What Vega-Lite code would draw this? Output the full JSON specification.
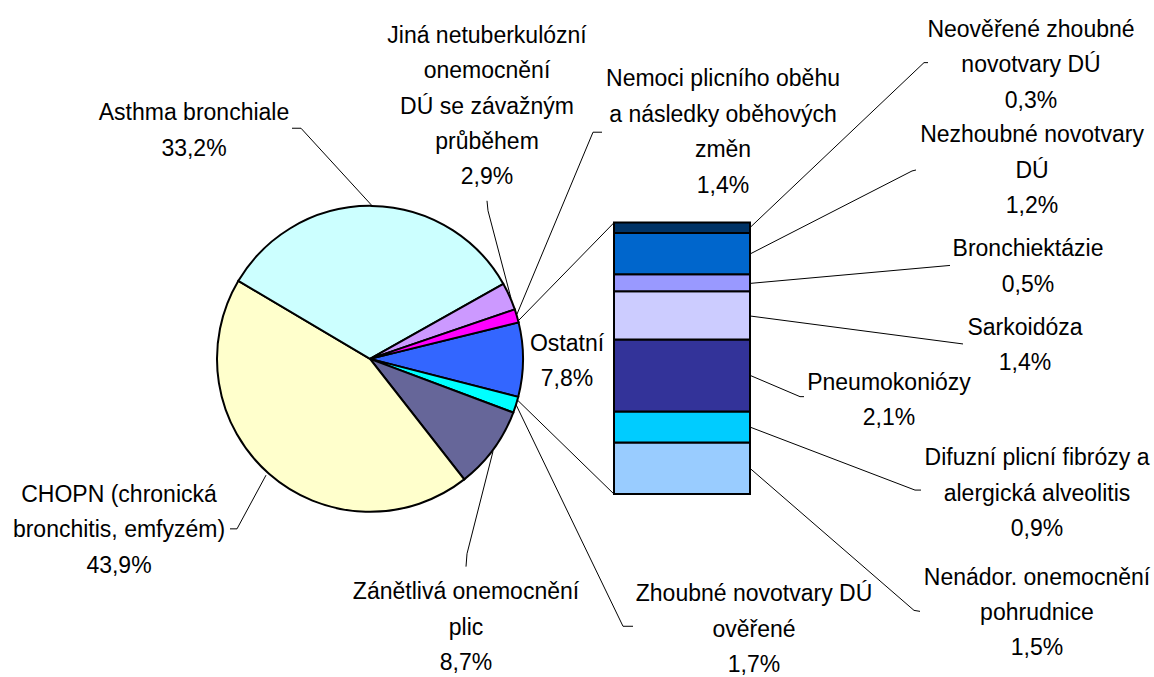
{
  "$schema": "https://vega.github.io/schema/vega-lite/v6.json",
  "width": 1154,
  "height": 677,
  "autosize": {"type": "fit", "contains": "padding"},
  "padding": 0,
  "background": "white",
  "config": {"view": {"stroke": null}},
  "datasets": {
    "pie": [
      {"name": "Ostatní", "value": 7.8, "ord": 1},
      {"name": "Zhoubné novotvary DÚ ověřené", "value": 1.7, "ord": 2},
      {"name": "Zánětlivá onemocnění plic", "value": 8.7, "ord": 3},
      {"name": "CHOPN (chronická bronchitis, emfyzém)", "value": 43.9, "ord": 4},
      {"name": "Asthma bronchiale", "value": 33.2, "ord": 5},
      {"name": "Jiná netuberkulózní onemocnění DÚ se závažným průběhem", "value": 2.9, "ord": 6},
      {"name": "Nemoci plicního oběhu a následky oběhových změn", "value": 1.4, "ord": 7}
    ],
    "bar": [
      {"name": "Nenádor. onemocnění pohrudnice", "value": 1.5, "ord": 1},
      {"name": "Difuzní plicní fibrózy a alergická alveolitis", "value": 0.9, "ord": 2},
      {"name": "Pneumokoniózy", "value": 2.1, "ord": 3},
      {"name": "Sarkoidóza", "value": 1.4, "ord": 4},
      {"name": "Bronchiektázie", "value": 0.5, "ord": 5},
      {"name": "Nezhoubné novotvary DÚ", "value": 1.2, "ord": 6},
      {"name": "Neověřené zhoubné novotvary DÚ", "value": 0.3, "ord": 7}
    ],
    "labels": [
      {"label": "Asthma bronchiale\n33,2%", "x": 194, "y": 121},
      {"label": "Jiná netuberkulózní\nonemocnění\nDÚ se závažným\nprůběhem\n2,9%", "x": 487, "y": 43},
      {"label": "Nemoci plicního oběhu\na následky oběhových\nzměn\n1,4%", "x": 723, "y": 87},
      {"label": "Ostatní\n7,8%", "x": 567, "y": 353},
      {"label": "Neověřené zhoubné\nnovotvary DÚ\n0,3%", "x": 1031, "y": 37},
      {"label": "Nezhoubné novotvary\nDÚ\n1,2%", "x": 1032, "y": 143},
      {"label": "Bronchiektázie\n0,5%", "x": 1028, "y": 258},
      {"label": "Sarkoidóza\n1,4%", "x": 1025, "y": 337},
      {"label": "Pneumokoniózy\n2,1%", "x": 889, "y": 392},
      {"label": "Difuzní plicní fibrózy a\nalergická alveolitis\n0,9%", "x": 1037, "y": 468},
      {"label": "Nenádor. onemocnění\npohrudnice\n1,5%", "x": 1037, "y": 588},
      {"label": "Zhoubné novotvary DÚ\nověřené\n1,7%", "x": 754, "y": 605},
      {"label": "Zánětlivá onemocnění\nplic\n8,7%", "x": 466, "y": 603},
      {"label": "CHOPN (chronická\nbronchitis, emfyzém)\n43,9%", "x": 119, "y": 505}
    ],
    "leaders": [
      {"id": "A", "ord": 1, "x": 292, "y": 129}, {"id": "A", "ord": 2, "x": 301, "y": 129}, {"id": "A", "ord": 3, "x": 373, "y": 208},
      {"id": "J", "ord": 1, "x": 487, "y": 202}, {"id": "J", "ord": 2, "x": 488, "y": 212}, {"id": "J", "ord": 3, "x": 511, "y": 300},
      {"id": "N", "ord": 1, "x": 602, "y": 133}, {"id": "N", "ord": 2, "x": 593, "y": 133}, {"id": "N", "ord": 3, "x": 517, "y": 316},
      {"id": "C1", "ord": 1, "x": 614, "y": 224}, {"id": "C1", "ord": 2, "x": 517, "y": 324},
      {"id": "C2", "ord": 1, "x": 614, "y": 497}, {"id": "C2", "ord": 2, "x": 518, "y": 403},
      {"id": "NEO", "ord": 1, "x": 928, "y": 63}, {"id": "NEO", "ord": 2, "x": 924, "y": 63}, {"id": "NEO", "ord": 3, "x": 751, "y": 228},
      {"id": "NEZ", "ord": 1, "x": 916, "y": 171}, {"id": "NEZ", "ord": 2, "x": 912, "y": 172}, {"id": "NEZ", "ord": 3, "x": 751, "y": 255},
      {"id": "BR", "ord": 1, "x": 950, "y": 267}, {"id": "BR", "ord": 2, "x": 751, "y": 285},
      {"id": "SA", "ord": 1, "x": 963, "y": 346}, {"id": "SA", "ord": 2, "x": 751, "y": 318},
      {"id": "PN", "ord": 1, "x": 804, "y": 399}, {"id": "PN", "ord": 2, "x": 800, "y": 399}, {"id": "PN", "ord": 3, "x": 751, "y": 378},
      {"id": "DI", "ord": 1, "x": 921, "y": 493}, {"id": "DI", "ord": 2, "x": 915, "y": 493}, {"id": "DI", "ord": 3, "x": 751, "y": 430},
      {"id": "NE", "ord": 1, "x": 920, "y": 615}, {"id": "NE", "ord": 2, "x": 914, "y": 614}, {"id": "NE", "ord": 3, "x": 751, "y": 472},
      {"id": "ZH", "ord": 1, "x": 633, "y": 630}, {"id": "ZH", "ord": 2, "x": 623, "y": 630}, {"id": "ZH", "ord": 3, "x": 516, "y": 407},
      {"id": "ZA", "ord": 1, "x": 466, "y": 570}, {"id": "ZA", "ord": 2, "x": 467, "y": 557}, {"id": "ZA", "ord": 3, "x": 493, "y": 454},
      {"id": "CH", "ord": 1, "x": 230, "y": 532}, {"id": "CH", "ord": 2, "x": 237, "y": 532}, {"id": "CH", "ord": 3, "x": 266, "y": 478}
    ]
  },
  "resolve": {"scale": {"x": "independent", "y": "independent", "color": "independent"}},
  "layer": [
    {
      "data": {"name": "leaders"},
      "mark": {"type": "line", "stroke": "black", "strokeWidth": 1},
      "encoding": {
        "x": {"field": "x", "type": "quantitative", "scale": {"domain": [0, 1154], "nice": false, "zero": false}, "axis": null},
        "y": {"field": "y", "type": "quantitative", "scale": {"domain": [0, 677], "nice": false, "zero": false, "reverse": true}, "axis": null},
        "detail": {"field": "id"},
        "order": {"field": "ord"}
      }
    },
    {
      "data": {"name": "pie"},
      "mark": {"type": "arc", "outerRadius": 153, "stroke": "black", "strokeWidth": 2},
      "encoding": {
        "x": {"datum": 370, "type": "quantitative", "scale": {"domain": [0, 1154], "nice": false, "zero": false}, "axis": null},
        "y": {"datum": 361, "type": "quantitative", "scale": {"domain": [0, 677], "nice": false, "zero": false, "reverse": true}, "axis": null},
        "theta": {"field": "value", "type": "quantitative", "stack": true, "scale": {"range": [1.3299, 7.6131]}},
        "order": {"field": "ord"},
        "color": {
          "field": "name", "type": "nominal", "legend": null,
          "scale": {
            "domain": ["Ostatní", "Zhoubné novotvary DÚ ověřené", "Zánětlivá onemocnění plic", "CHOPN (chronická bronchitis, emfyzém)", "Asthma bronchiale", "Jiná netuberkulózní onemocnění DÚ se závažným průběhem", "Nemoci plicního oběhu a následky oběhových změn"],
            "range": ["#3366FF", "#00FFFF", "#666699", "#FFFFCC", "#CCFFFF", "#CC99FF", "#FF00FF"]
          }
        }
      }
    },
    {
      "data": {"name": "bar"},
      "transform": [
        {"stack": "value", "groupby": [], "sort": [{"field": "ord", "order": "ascending"}], "as": ["v0", "v1"]}
      ],
      "mark": {"type": "rect", "stroke": "black", "strokeWidth": 2},
      "encoding": {
        "x": {"datum": 614, "type": "quantitative", "scale": {"domain": [0, 1154], "nice": false, "zero": false}, "axis": null},
        "x2": {"datum": 750},
        "y": {"field": "v0", "type": "quantitative", "scale": {"domain": [-5.21, 14.38], "nice": false, "zero": false}, "axis": null},
        "y2": {"field": "v1"},
        "color": {
          "field": "name", "type": "nominal", "legend": null,
          "scale": {
            "domain": ["Nenádor. onemocnění pohrudnice", "Difuzní plicní fibrózy a alergická alveolitis", "Pneumokoniózy", "Sarkoidóza", "Bronchiektázie", "Nezhoubné novotvary DÚ", "Neověřené zhoubné novotvary DÚ"],
            "range": ["#99CCFF", "#00CCFF", "#333399", "#CCCCFF", "#9999FF", "#0066CC", "#003366"]
          }
        }
      }
    },
    {
      "data": {"name": "labels"},
      "mark": {"type": "text", "align": "center", "baseline": "alphabetic", "lineBreak": "\n", "lineHeight": 35.4, "font": "Liberation Sans", "fontSize": 23, "fill": "black"},
      "encoding": {
        "x": {"field": "x", "type": "quantitative", "scale": {"domain": [0, 1154], "nice": false, "zero": false}, "axis": null},
        "y": {"field": "y", "type": "quantitative", "scale": {"domain": [0, 677], "nice": false, "zero": false, "reverse": true}, "axis": null},
        "text": {"field": "label"}
      }
    }
  ]
}
